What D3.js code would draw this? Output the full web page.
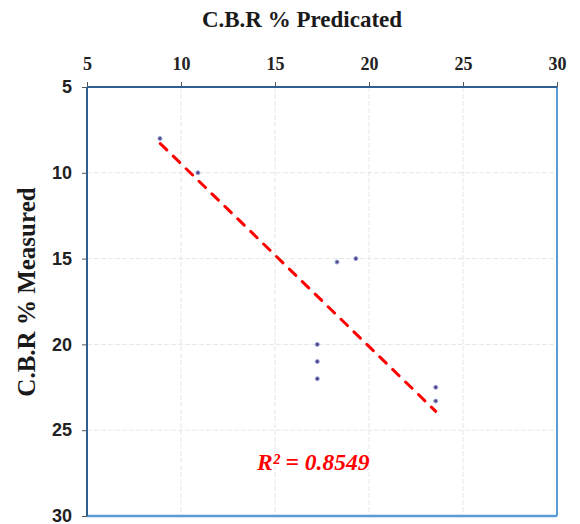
<!DOCTYPE html>
<html lang="en">
<head>
<meta charset="UTF-8">
<title>CBR scatter</title>
<script src="https://cdn.jsdelivr.net/npm/d3@7/dist/d3.min.js"></script>
<style>
    body { margin: 0; background: #fff; }
    svg { display: block; }
    .grid line { stroke: #e6e6e6; stroke-width: 1; stroke-dasharray: 5,2; }
    .axis path { display: none; }
    .axis line { stroke: #555; }
    .xaxis text { font-family: "Liberation Serif", serif; font-weight: bold; font-size: 18px; fill: #222; }
    .yaxis text { font-family: "Liberation Sans", sans-serif; font-weight: bold; font-size: 18px; fill: #222; }
    .title { font-family: "Liberation Serif", serif; font-weight: bold; fill: #1a1a1a; }
</style>
</head>
<body>
<svg width="580" height="524"></svg>
<script>
    // data
    var predicted = [8.88, 10.9, 18.3, 19.3, 17.25, 17.25, 17.25, 23.55, 23.55],
        measured  = [8.0, 10.0, 15.2, 15.0, 20.0, 21.0, 22.0, 22.5, 23.3],
        trendX = [8.9, 23.55],
        trendY = [8.3, 23.9],
        xTicks = [5, 10, 15, 20, 25, 30],
        yTicks = [5, 10, 15, 20, 25, 30],
        r2Label = 'R² = 0.8549';

    var svg = d3.select('svg'),
        pLeft = 87, pRight = 557, pTop = 87, pBottom = 516;

    var x = d3.scaleLinear().domain([5, 30]).range([pLeft, pRight]),
        y = d3.scaleLinear().domain([5, 30]).range([pTop, pBottom]);

    // gridlines
    var grid = svg.append('g').attr('class', 'grid');
    grid.selectAll('.gx')
        .data(xTicks.slice(1, -1))
        .enter().append('line')
        .attr('x1', function(d) { return x(d); })
        .attr('x2', function(d) { return x(d); })
        .attr('y1', pTop).attr('y2', pBottom);
    grid.selectAll('.gy')
        .data(yTicks.slice(1, -1))
        .enter().append('line')
        .attr('y1', function(d) { return y(d); })
        .attr('y2', function(d) { return y(d); })
        .attr('x1', pLeft).attr('x2', pRight);

    // plot border (light blue right/bottom)
    svg.append('line')
        .attr('x1', pRight).attr('x2', pRight).attr('y1', pTop).attr('y2', pBottom)
        .attr('stroke', '#5b9bd5').attr('stroke-width', 2);
    svg.append('line')
        .attr('x1', pLeft).attr('x2', pRight).attr('y1', pBottom).attr('y2', pBottom)
        .attr('stroke', '#5b9bd5').attr('stroke-width', 2.5);

    // axes
    svg.append('g')
        .attr('class', 'axis xaxis')
        .attr('transform', 'translate(0,' + pTop + ')')
        .call(d3.axisTop(x).tickValues(xTicks).tickSize(5).tickPadding(12));
    svg.append('g')
        .attr('class', 'axis yaxis')
        .attr('transform', 'translate(' + pLeft + ',0)')
        .call(d3.axisLeft(y).tickValues(yTicks).tickSize(5).tickPadding(10));

    svg.append('line')
        .attr('x1', pLeft).attr('x2', pRight).attr('y1', pTop).attr('y2', pTop)
        .attr('stroke', '#2e5f8e').attr('stroke-width', 2);
    svg.append('line')
        .attr('x1', pLeft).attr('x2', pLeft).attr('y1', pTop).attr('y2', pBottom)
        .attr('stroke', '#2e5f8e').attr('stroke-width', 2);

    // trendline
    svg.append('line')
        .attr('x1', x(trendX[0])).attr('y1', y(trendY[0]))
        .attr('x2', x(trendX[1])).attr('y2', y(trendY[1]))
        .attr('stroke', '#ff0000')
        .attr('stroke-width', 3)
        .attr('stroke-linecap', 'round')
        .attr('stroke-dasharray', '9,9');

    // points
    svg.selectAll('.pt')
        .data(predicted)
        .enter().append('circle')
        .attr('class', 'pt')
        .attr('cx', function(d) { return x(d); })
        .attr('cy', function(d, i) { return y(measured[i]); })
        .attr('r', 2)
        .attr('fill', '#5b3f86')
        .attr('stroke', '#8fa8dc')
        .attr('stroke-width', 1);

    // titles
    svg.append('text')
        .attr('class', 'title')
        .attr('font-size', 23)
        .attr('x', 302).attr('y', 27)
        .attr('text-anchor', 'middle')
        .text('C.B.R % Predicated');
    svg.append('text')
        .attr('class', 'title')
        .attr('font-size', 25)
        .attr('transform', 'translate(35,292) rotate(-90)')
        .attr('text-anchor', 'middle')
        .text('C.B.R % Measured');

    svg.append('text')
        .attr('x', 257).attr('y', 470)
        .attr('font-family', '"Liberation Serif", serif')
        .attr('font-weight', 'bold')
        .attr('font-style', 'italic')
        .attr('font-size', 23.5)
        .attr('fill', '#ff0000')
        .text(r2Label);
</script>
</body>
</html>
